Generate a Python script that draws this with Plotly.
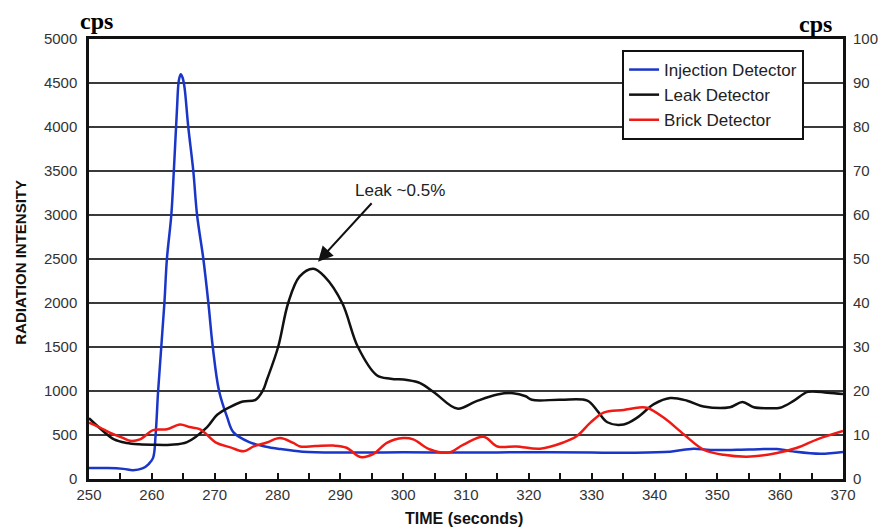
import plotly.graph_objects as go

# Injection detector (left axis, cps)
inj_t = [250, 253, 255.5, 257, 258.5, 259.5, 260.2, 260.6, 261, 261.5, 262, 262.4, 263.1, 263.5,
         264, 264.3, 264.6, 264.9, 265.2, 265.8, 266.6, 267.2, 268.2, 269, 269.7, 270.7, 272, 273,
         275.5, 278, 280.5, 284, 290, 300, 310, 320, 330, 335.6, 342.5, 346.2, 348.9, 355, 359.5,
         362, 366.4, 370]
inj_v = [125, 125, 115, 100, 120, 170, 240, 500, 1000, 1500, 2000, 2500, 3000, 3500,
         4200, 4530, 4600, 4560, 4450, 4000, 3500, 3000, 2500, 2000, 1500, 1000, 700, 530,
         420, 370, 340, 310, 300, 305, 300, 305, 300, 299, 310, 345, 330, 335, 340,
         314, 287, 307]

# Leak detector (right axis, cps)
leak_t = [250, 252, 254, 256, 258, 260, 263, 265.6, 268.8, 270.4, 272.5, 274.5, 276.5, 277.7, 278.3,
          280.1, 281.7, 283.5, 285.7, 287.5, 290.3, 292.8, 295.8, 298, 300.6, 302.7, 305, 308.6,
          311.5, 315, 317.5, 319.5, 320.5, 325, 329.3, 330.9, 332.5, 335.1, 337.3, 339.9, 342.5,
          345.2, 347.8, 352, 354, 355.8, 358, 360, 362.2, 364.4, 367.5, 370]
leak_v = [13.8, 11.2, 9.0, 8.2, 7.9, 7.8, 7.8, 8.4, 11.8, 14.6, 16.4, 17.6, 18.0, 20.2, 22.5,
          30, 40, 46, 47.8, 46, 40, 30, 23.6, 22.8, 22.5, 21.8, 19.6, 16.0,
          17.6, 19.2, 19.5, 18.8, 18.0, 18.0, 17.8, 15.5, 12.9, 12.4, 14.0, 17.0, 18.4,
          17.8, 16.5, 16.3, 17.5, 16.3, 16.1, 16.2, 17.8, 19.8, 19.6, 19.3]

# Brick detector (right axis, cps)
brick_t = [250, 251.6, 253.5, 255.3, 256.5, 258.1, 260.2, 262.4, 264.5, 266, 267.7, 270.3, 272.5,
           274.6, 276.2, 278.3, 280.4, 282.5, 283.6, 286, 288.9, 291, 293.2, 295.3, 297.4, 300,
           301.6, 304.3, 307.2, 309.6, 312.8, 315, 318, 321.8, 325.5, 327.6, 329.8, 331.9, 335.1,
           337.2, 338.8, 341.5, 344.7, 347.8, 351, 355.3, 359.5, 362.7, 365.9, 370]
brick_v = [12.8, 11.8, 10.4, 9.4, 8.7, 9.0, 11.1, 11.3, 12.4, 11.8, 11.3, 8.2, 7.2,
           6.3, 7.4, 8.3, 9.3, 8.2, 7.4, 7.5, 7.6, 7.1, 5.0, 5.7, 8.2, 9.3,
           9.0, 6.7, 6.0, 7.8, 9.6, 7.4, 7.4, 6.9, 8.3, 9.7, 12.8, 15.1, 15.7,
           16.2, 16.2, 13.9, 10.1, 6.7, 5.5, 5.1, 5.9, 7.1, 9.0, 10.9]

x_ticks = list(range(250, 371, 10))
left_ticks = list(range(0, 5001, 500))
right_ticks = list(range(0, 101, 10))

FONT = "Arial, Liberation Sans, Helvetica, sans-serif"

fig = go.Figure()
fig.add_trace(go.Scatter(x=inj_t, y=inj_v, mode="lines", name="Injection Detector",
                         line=dict(color="#1a36c8", width=2.5, shape="spline", smoothing=1.0)))
fig.add_trace(go.Scatter(x=leak_t, y=leak_v, mode="lines", name="Leak Detector", yaxis="y2",
                         line=dict(color="#111111", width=2.5, shape="spline", smoothing=1.0)))
fig.add_trace(go.Scatter(x=brick_t, y=brick_v, mode="lines", name="Brick Detector", yaxis="y2",
                         line=dict(color="#f01a14", width=2.5, shape="spline", smoothing=1.0)))

fig.update_layout(
    width=882, height=530,
    margin=dict(l=89, r=39, t=39, b=51, autoexpand=False),
    paper_bgcolor="white", plot_bgcolor="white",
    font=dict(family=FONT, color="#222222"),
    showlegend=True,
    legend=dict(x=0.707, y=0.975, xanchor="left", yanchor="top",
                bordercolor="#111111", borderwidth=2, bgcolor="white",
                font=dict(size=17, color="#222222"), itemwidth=30,
                tracegroupgap=0),
    xaxis=dict(range=[250, 370], tickvals=x_ticks, ticks="inside", ticklen=6, tickwidth=1.5,
               tickcolor="#111111", showgrid=False, zeroline=False, automargin=False,
               showline=True, linecolor="#111111", linewidth=2.5, mirror=True,
               tickfont=dict(size=15, color="#333333"),
               minor=dict(dtick=5, tick0=250, ticks="inside", ticklen=6, tickwidth=1.5,
                          tickcolor="#111111", showgrid=False)),
    yaxis=dict(range=[0, 5000], tickvals=left_ticks, showgrid=True, gridcolor="#3a3a3a",
               gridwidth=1.5, zeroline=False, showline=True, linecolor="#111111",
               linewidth=2.5, mirror=True, ticks="", ticklabelstandoff=6, automargin=False,
               tickfont=dict(size=15, color="#333333")),
    yaxis2=dict(range=[0, 100], tickvals=right_ticks, overlaying="y", side="right",
                showgrid=False, zeroline=False, showline=False, ticks="",
                ticklabelstandoff=9, automargin=False,
                tickfont=dict(size=15, color="#333333")),
)

anns = [
    dict(text="<b>cps</b>", xref="paper", yref="paper", x=0.0106, y=1.041, showarrow=False,
         font=dict(family="Liberation Serif, Times New Roman, serif", size=24, color="#000000"),
         xanchor="center", yanchor="middle"),
    dict(text="<b>cps</b>", xref="paper", yref="paper", x=0.963, y=1.034, showarrow=False,
         font=dict(family="Liberation Serif, Times New Roman, serif", size=24, color="#000000"),
         xanchor="center", yanchor="middle"),
    dict(text="<b>RADIATION INTENSITY</b>", xref="paper", yref="paper", x=-0.092, y=0.493,
         textangle=-90, showarrow=False, font=dict(size=15, color="#111111"),
         xanchor="center", yanchor="middle"),
    dict(text="<b>TIME (seconds)</b>", xref="paper", yref="paper", x=0.498, y=-0.089,
         showarrow=False, font=dict(size=16, color="#111111"),
         xanchor="center", yanchor="middle"),
    dict(text="Leak ~0.5%", xref="x", yref="y", x=299.5, y=3284, showarrow=False,
         font=dict(size=17, color="#222222"), xanchor="center", yanchor="middle"),
    dict(text="", xref="x", yref="y", x=286.45, y=2470, axref="x", ayref="y",
         ax=295.2, ay=3150, showarrow=True, arrowhead=2, arrowsize=1.5, arrowwidth=2,
         arrowcolor="#111111"),
]
fig.update_layout(annotations=anns)

fig.write_html("out.html")
